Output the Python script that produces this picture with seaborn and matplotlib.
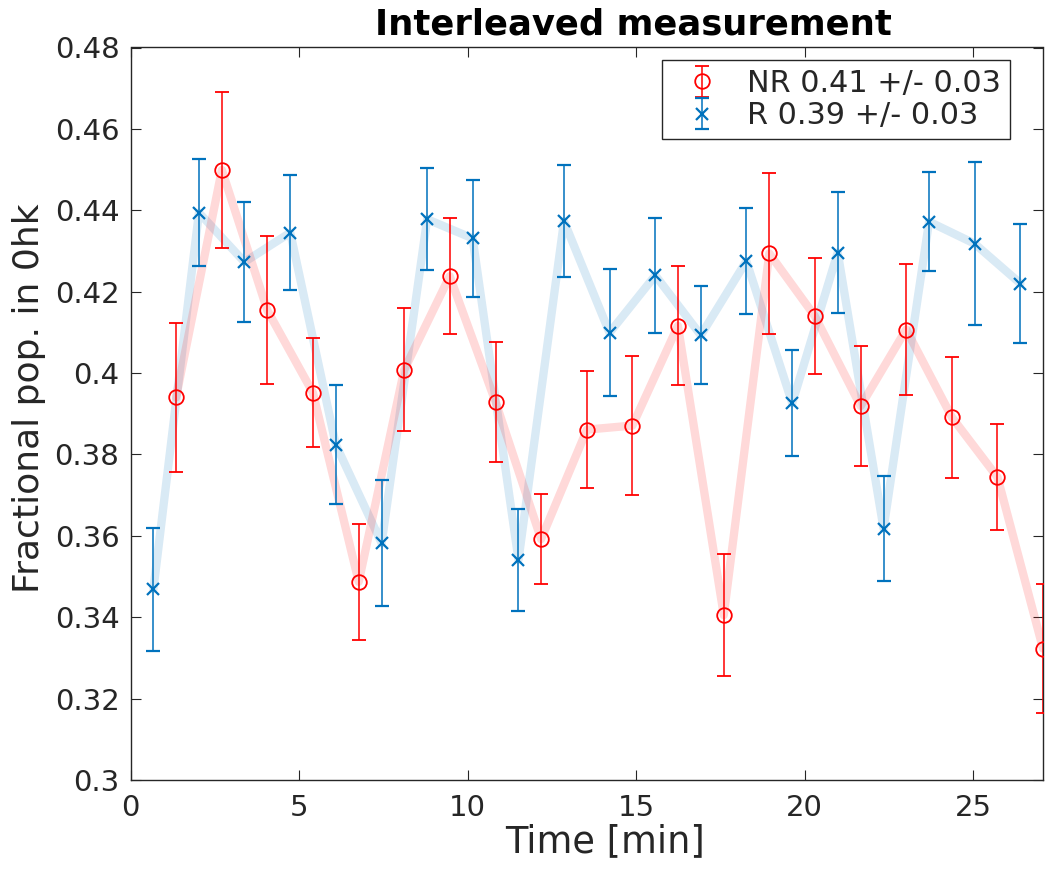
import matplotlib
matplotlib.use("Agg")
import matplotlib.pyplot as plt
import seaborn as sns
import numpy as np
import pandas as pd
from matplotlib.ticker import FuncFormatter

# ---------------- data ----------------
t_r = [0.68, 2.03, 3.38, 4.74, 6.09, 7.45, 8.80, 10.15, 11.51, 12.86,
       14.21, 15.57, 16.92, 18.27, 19.63, 20.98, 22.34, 23.69, 25.04, 26.40]
r_val = [0.3469, 0.4394, 0.4273, 0.4345, 0.3824, 0.3582, 0.4378, 0.4331, 0.3541, 0.4373,
         0.4099, 0.4240, 0.4093, 0.4275, 0.3926, 0.4296, 0.3618, 0.4372, 0.4318, 0.4220]
r_err = [0.0151, 0.0132, 0.0148, 0.0142, 0.0146, 0.0155, 0.0125, 0.0144, 0.0125, 0.0138,
         0.0156, 0.0142, 0.0120, 0.0131, 0.0131, 0.0149, 0.0128, 0.0122, 0.0200, 0.0146]

t_nr = [1.35, 2.71, 4.06, 5.41, 6.77, 8.12, 9.47, 10.83, 12.18, 13.54,
        14.89, 16.24, 17.60, 18.95, 20.30, 21.66, 23.01, 24.37, 25.72, 27.07]
nr_val = [0.3940, 0.4499, 0.4154, 0.3952, 0.3487, 0.4008, 0.4238, 0.3929, 0.3592, 0.3861,
          0.3871, 0.4116, 0.3405, 0.4294, 0.4140, 0.3919, 0.4107, 0.3891, 0.3744, 0.3323]
nr_err = [0.0183, 0.0191, 0.0182, 0.0133, 0.0142, 0.0151, 0.0143, 0.0148, 0.0110, 0.0144,
          0.0170, 0.0146, 0.0150, 0.0198, 0.0143, 0.0148, 0.0162, 0.0148, 0.0130, 0.0159]

labels = ["NR 0.41 +/- 0.03", "R 0.39 +/- 0.03"]
title = "Interleaved measurement"
xlabel = "Time [min]"
ylabel = "Fractional pop. in 0hk"
xticks = [0, 5, 10, 15, 20, 25]
yticks = [0.30, 0.32, 0.34, 0.36, 0.38, 0.40, 0.42, 0.44, 0.46, 0.48]

RED = "#FF0000"
BLUE = "#0072BD"
GRAY = "#262626"

# ---------------- style ----------------
sns.set_style("ticks")
plt.rcParams["font.family"] = ["DejaVu Sans"]

W, H = 1045, 884
AX_L, AX_R, AX_T, AX_B = 130.5, 1043, 47.5, 780
fig = plt.figure(figsize=(W / 100, H / 100), dpi=100)
ax = fig.add_axes([AX_L / W, 1 - AX_B / H, (AX_R - AX_L) / W, (AX_B - AX_T) / H])

df_nr = pd.DataFrame({"t": t_nr, "v": nr_val})
df_r = pd.DataFrame({"t": t_r, "v": r_val})

# thick translucent connecting lines
sns.lineplot(data=df_r, x="t", y="v", ax=ax, color=BLUE, alpha=0.15,
             linewidth=6, legend=False, zorder=1)
sns.lineplot(data=df_nr, x="t", y="v", ax=ax, color=RED, alpha=0.15,
             linewidth=6, legend=False, zorder=1)

# error bars with markers
h_nr = ax.errorbar(t_nr, nr_val, yerr=nr_err, fmt="o", color=RED, mfc="none",
                   mec=RED, ms=10.5, mew=1.3, elinewidth=1.1, capsize=5,
                   capthick=1.1, zorder=3, label=labels[0])
h_r = ax.errorbar(t_r, r_val, yerr=r_err, fmt="x", color=BLUE, ms=8, mew=1.6,
                  elinewidth=1.1, capsize=5, capthick=1.1, zorder=3, label=labels[1])

ax.set_xlim(0, 27.07)
ax.set_ylim(0.30, 0.48)
ax.set_xticks(xticks)
ax.set_yticks(yticks)
ax.yaxis.set_major_formatter(FuncFormatter(lambda v, p: "%g" % round(v, 2)))

ax.tick_params(direction="in", length=7, width=0.8, colors=GRAY, labelsize=21,
               top=True, right=True, pad=8)
ax.tick_params(axis="x", pad=10)
for s in ax.spines.values():
    s.set_visible(True)
    s.set_color(GRAY)
    s.set_linewidth(1.0)

ax.set_xlabel(xlabel, fontsize=26.5, color=GRAY)
ax.set_ylabel(ylabel, fontsize=26, color=GRAY)
# label positions measured on the reference (pixel positions -> axes fraction)
aw, ah = AX_R - AX_L, AX_B - AX_T
ax.xaxis.set_label_coords((605 - AX_L) / aw, -(823 - AX_B) / ah)
ax.xaxis.label.set_va("top")
ax.yaxis.set_label_coords(-(AX_L - 12) / aw, 1 - (398 - AX_T) / ah)
ax.yaxis.label.set_va("top")

ax.set_title(title, fontsize=25.5, fontweight="bold", color="black",
             x=(633 - AX_L) / aw, pad=9)

leg = ax.legend(handles=[h_nr, h_r], labels=labels, loc="upper right",
                bbox_to_anchor=((1010 - AX_L) / aw, 1 - (60 - AX_T) / ah),
                fontsize=21.8, frameon=True, fancybox=False, framealpha=1,
                edgecolor=GRAY, borderpad=0.3, labelspacing=0.1,
                handlelength=2.0, handletextpad=0.5, borderaxespad=0)
leg.get_frame().set_linewidth(1.0)

fig.savefig("out.png", dpi=100, facecolor="white")
